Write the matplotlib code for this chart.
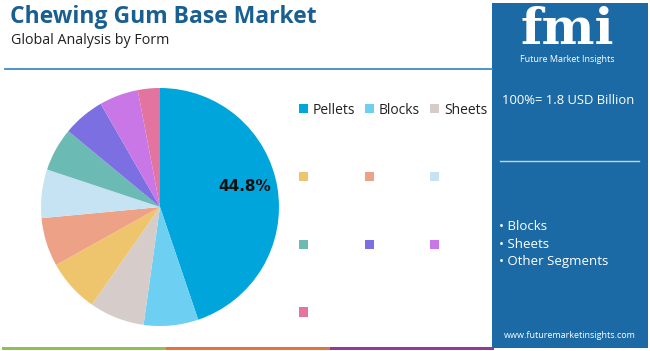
import matplotlib
matplotlib.use("Agg")
import matplotlib.pyplot as plt
from matplotlib.patches import Rectangle
from matplotlib.lines import Line2D

categories = ["Pellets", "Blocks", "Sheets", "", "", "", "", "", "", ""]
values = [44.8, 7.4, 7.5, 7.2, 6.6, 6.6, 5.9, 5.7, 5.3, 3.0]
colors = ["#00A5DC", "#6DCFF1", "#D6CDCA", "#EEC56C", "#EDA186", "#C6E3F4",
          "#6BBAB4", "#7C6FE1", "#C977E6", "#E3739F"]
title = "Chewing Gum Base Market"
subtitle = "Global Analysis by Form"
total_text = "100%= 1.8 USD Billion"
bullets = ["• Blocks", "• Sheets", "• Other Segments"]

W, H = 650, 351
fig = plt.figure(figsize=(W / 100, H / 100), dpi=100)
fig.patch.set_facecolor("white")

def fx(x):
    return x / W

def fy(y):
    return 1 - y / H

# title
fig.text(fx(10), fy(17), title, fontsize=16.5, fontweight="bold", color="#1A5F91",
         family="Open Sans", va="center", ha="left")
fig.text(fx(11), fy(40), subtitle, fontsize=10.3, color="#222222",
         family="Open Sans", va="center", ha="left")
fig.add_artist(Line2D([fx(5), fx(492)], [fy(69), fy(69)], color="#3A8CC4", lw=1.3))

# bottom strips
for x0, x1, c in [(2, 166, "#8DC153"), (166, 330, "#E8703A"), (330, 494, "#8E3C97")]:
    fig.add_artist(Rectangle((fx(x0), fy(350)), fx(x1 - x0), 3 / H, color=c, lw=0))

# right panel
fig.add_artist(Rectangle((fx(492), fy(348)), fx(156), 345 / H, color="#1C6AA5", lw=0))
fig.text(fx(567), fy(31), "fmi", fontsize=36, fontweight="bold", color="white",
         family="DejaVu Serif", ha="center", va="center")
fig.text(fx(567), fy(60), "Future Market Insights", fontsize=6.5, color="white",
         family="Open Sans", ha="center", va="center")
fig.text(fx(502), fy(101), total_text, fontsize=9.4, color="white",
         family="Open Sans", ha="left", va="center")
fig.add_artist(Line2D([fx(500), fx(639)], [fy(161), fy(161)], color="#BFD6EA", lw=1))
for i, b in enumerate(bullets):
    fig.text(fx(499), fy(227 + i * 17.5), b, fontsize=9.5, color="white",
             family="Open Sans", ha="left", va="center")
fig.text(fx(570), fy(335), "www.futuremarketinsights.com", fontsize=6.5, color="white",
         family="Open Sans", ha="center", va="center")

# pie
ax = fig.add_axes([fx(41), fy(326), fx(238), 238 / H])
wedges, texts, autotexts = ax.pie(
    values, colors=colors, startangle=90, counterclock=False,
    autopct=lambda p: f"{p:.1f}%" if p > 20 else "", pctdistance=0.74,
    wedgeprops=dict(linewidth=0),
    textprops=dict(fontsize=11, fontweight="bold", color="#111111"))
autotexts[0].set_position((0.715, 0.175))
ax.set_xlim(-1, 1)
ax.set_ylim(-1, 1)
ax.set_aspect("equal")
ax.axis("off")

# legend filled row by row (3 columns)
ncol = 3
n = len(categories)
order = [i for c in range(ncol) for i in range(c, n, ncol)]
leg = fig.legend([wedges[i] for i in order], [categories[i] for i in order],
                 ncol=ncol, loc="upper left",
                 bbox_to_anchor=(fx(286), fy(90)), frameon=False,
                 handlelength=0.65, handleheight=0.65,
                 handletextpad=0.35, columnspacing=0.72, labelspacing=3.8,
                 prop=dict(family="Open Sans", size=10))
for t in leg.get_texts():
    t.set_color("#222222")

fig.savefig("out.png", dpi=100)
